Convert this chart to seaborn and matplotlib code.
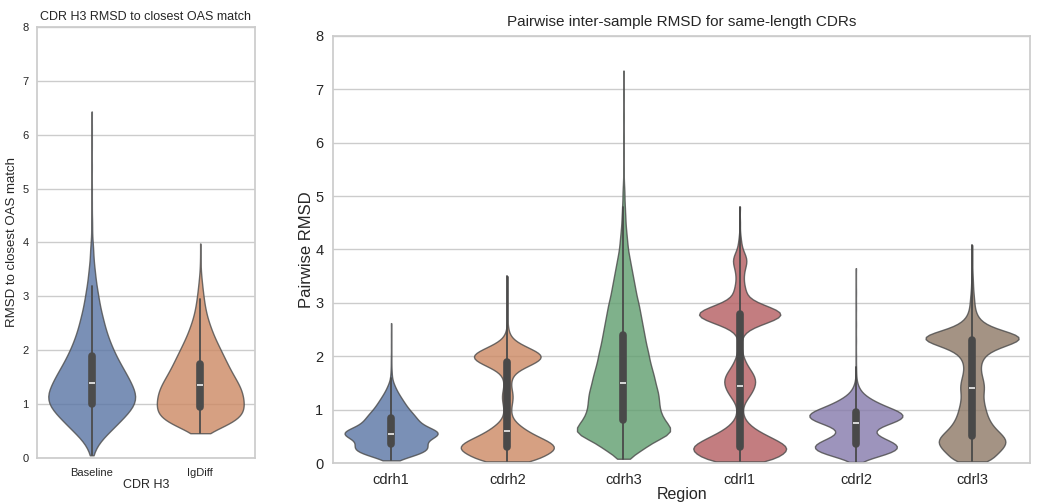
import numpy as np
import pandas as pd
import seaborn as sns
import matplotlib.pyplot as plt

# left panel: CDR H3 RMSD to closest OAS match (value grid + counts)
methods = ['Baseline', 'IgDiff']
baseline_vals = [0.05, 0.1, 0.2, 0.3, 0.4, 0.5, 0.6, 0.7, 0.8, 0.9, 1.0, 1.1, 1.2, 1.3, 1.4, 1.5,
                 1.6, 1.7, 1.8, 1.9, 2.0, 2.1, 2.2, 2.3, 2.4, 2.5, 2.6, 2.7, 2.8, 2.9, 3.0, 3.1,
                 3.2, 3.3, 3.4, 3.5, 3.6, 3.7, 3.8, 3.9, 4.0, 4.2, 4.4, 4.7, 5.0, 5.4, 5.8, 6.1, 6.43]
baseline_counts = [2, 4, 10, 18, 29, 42, 54, 66, 78, 89, 97, 100, 99, 94, 88, 82,
                   75, 68, 61, 55, 49, 44, 39, 35, 31, 28, 25, 22, 19, 17, 15, 13,
                   11, 9, 8, 7, 5, 4, 4, 3, 3, 2, 2, 1, 1, 1, 1, 1, 1]
igdiff_vals = [0.46, 0.55, 0.65, 0.75, 0.85, 0.95, 1.05, 1.15, 1.25, 1.35, 1.45, 1.55, 1.65,
               1.75, 1.85, 1.95, 2.05, 2.15, 2.25, 2.35, 2.45, 2.55, 2.65, 2.75, 2.85, 2.95,
               3.05, 3.15, 3.25, 3.35, 3.5, 3.7, 3.98]
igdiff_counts = [10, 42, 75, 92, 100, 100, 100, 98, 95, 90, 82, 75, 68,
                 62, 56, 50, 44, 38, 32, 27, 23, 18, 15, 12, 10, 8,
                 7, 5, 4, 3, 2, 1, 1]

# right panel: pairwise inter-sample RMSD per CDR region
regions = ['cdrh1', 'cdrh2', 'cdrh3', 'cdrl1', 'cdrl2', 'cdrl3']
cdrh1_vals = [0.05, 0.1, 0.15, 0.2, 0.25, 0.3, 0.35, 0.4, 0.45, 0.5, 0.55, 0.6, 0.65, 0.7,
              0.75, 0.8, 0.85, 0.9, 0.95, 1.0, 1.05, 1.1, 1.15, 1.2, 1.25, 1.3, 1.35, 1.4,
              1.45, 1.5, 1.6, 1.7, 1.8, 1.9, 2.0, 2.2, 2.4, 2.62]
cdrh1_counts = [4, 25, 45, 62, 68, 68, 62, 54, 60, 82, 100, 90, 64, 54,
                50, 47, 44, 41, 36, 31, 28, 25, 22, 19, 16, 13, 10, 8,
                6, 5, 3, 2, 1, 1, 1, 1, 1, 1]
cdrh2_vals = [0.03, 0.1, 0.2, 0.3, 0.4, 0.5, 0.6, 0.7, 0.8, 0.9, 1.0, 1.1, 1.2, 1.3, 1.4,
              1.5, 1.6, 1.7, 1.8, 1.9, 2.0, 2.1, 2.2, 2.3, 2.4, 2.5, 2.6, 2.8, 3.0, 3.2, 3.5]
cdrh2_counts = [35, 60, 90, 100, 85, 60, 40, 25, 13, 8, 7, 9, 11, 11, 8,
                7, 9, 16, 36, 62, 75, 58, 32, 13, 5, 2, 1, 1, 1, 1, 1]
cdrh3_vals = [0.08, 0.2, 0.3, 0.4, 0.5, 0.6, 0.7, 0.8, 0.9, 1.0, 1.1, 1.2, 1.3, 1.4, 1.5,
              1.6, 1.7, 1.8, 1.9, 2.0, 2.1, 2.2, 2.3, 2.4, 2.5, 2.6, 2.7, 2.8, 2.9, 3.0,
              3.1, 3.2, 3.3, 3.4, 3.5, 3.6, 3.7, 3.8, 3.9, 4.0, 4.1, 4.2, 4.3, 4.4, 4.5,
              4.6, 4.7, 4.8, 4.9, 5.0, 5.1, 5.2, 5.3, 5.5, 5.8, 6.1, 6.5, 6.9, 7.35]
cdrh3_counts = [15, 30, 45, 60, 85, 100, 92, 83, 77, 73, 72, 71, 70, 67, 64,
                62, 59, 56, 53, 51, 49, 46, 44, 42, 40, 38, 36, 34, 32, 30,
                27, 25, 23, 21, 19, 17, 15, 13, 11, 9, 8, 7, 6, 5, 4,
                4, 3, 3, 2, 2, 2, 1, 1, 1, 1, 1, 1, 1, 1]
cdrl1_vals = [0.03, 0.1, 0.2, 0.3, 0.4, 0.5, 0.6, 0.7, 0.8, 0.9, 1.0, 1.1, 1.2, 1.3, 1.4,
              1.5, 1.6, 1.7, 1.8, 1.9, 2.0, 2.1, 2.2, 2.3, 2.4, 2.5, 2.6, 2.7, 2.8, 2.9,
              3.0, 3.1, 3.2, 3.3, 3.4, 3.5, 3.6, 3.7, 3.8, 3.9, 4.0, 4.1, 4.2, 4.3, 4.5, 4.8]
cdrl1_counts = [34, 60, 82, 86, 70, 51, 32, 19, 10, 6, 5, 7, 13, 20, 25,
                28, 27, 22, 15, 10, 6, 4, 3, 3, 6, 15, 38, 68, 80, 60,
                31, 15, 11, 9, 7, 7, 8, 11, 13, 10, 5, 3, 2, 1, 1, 1]
cdrl2_vals = [0.02, 0.05, 0.1, 0.15, 0.2, 0.25, 0.3, 0.35, 0.4, 0.45, 0.5, 0.55, 0.6, 0.65,
              0.7, 0.75, 0.8, 0.85, 0.9, 0.95, 1.0, 1.05, 1.1, 1.15, 1.2, 1.25, 1.3, 1.35,
              1.4, 1.45, 1.5, 1.6, 1.7, 1.8, 2.0, 2.3, 2.6, 2.9, 3.2, 3.65]
cdrl2_counts = [3, 10, 30, 55, 75, 85, 88, 84, 72, 56, 42, 33, 31, 36,
                50, 70, 88, 98, 100, 92, 76, 60, 48, 38, 28, 20, 13, 9,
                6, 4, 3, 2, 1, 1, 1, 1, 1, 1, 1, 1]
cdrl3_vals = [0.03, 0.1, 0.2, 0.3, 0.4, 0.5, 0.6, 0.7, 0.8, 0.9, 1.0, 1.1, 1.2, 1.3, 1.4,
              1.5, 1.6, 1.7, 1.8, 1.9, 2.0, 2.1, 2.2, 2.3, 2.4, 2.5, 2.6, 2.7, 2.8, 2.9,
              3.0, 3.1, 3.2, 3.3, 3.4, 3.5, 3.6, 3.8, 4.08]
cdrl3_counts = [28, 40, 58, 68, 75, 68, 55, 44, 37, 32, 29, 26, 24, 24, 26,
                25, 22, 19, 18, 20, 26, 40, 70, 110, 105, 55, 28, 15, 9, 6,
                5, 4, 3, 2, 2, 1, 1, 1, 1]

oas_df = pd.DataFrame({
    'CDR H3': ['Baseline'] * sum(baseline_counts) + ['IgDiff'] * sum(igdiff_counts),
    'rmsd': np.concatenate([np.repeat(baseline_vals, baseline_counts),
                            np.repeat(igdiff_vals, igdiff_counts)]),
})

region_data = {
    'cdrh1': (cdrh1_vals, cdrh1_counts), 'cdrh2': (cdrh2_vals, cdrh2_counts),
    'cdrh3': (cdrh3_vals, cdrh3_counts), 'cdrl1': (cdrl1_vals, cdrl1_counts),
    'cdrl2': (cdrl2_vals, cdrl2_counts), 'cdrl3': (cdrl3_vals, cdrl3_counts),
}
rows = []
for r in regions:
    v, c = region_data[r]
    rows.append(pd.DataFrame({'Region': r, 'rmsd': np.repeat(v, c)}))
pair_df = pd.concat(rows, ignore_index=True)


def fixed_bw(bw):
    # same kernel width (in data units) for every violin
    return lambda k: bw / np.std(k.dataset)


sns.set_theme(style='whitegrid')
plt.rcParams['font.family'] = ['Liberation Sans', 'DejaVu Sans']

fig = plt.figure(figsize=(10.39, 5.03), dpi=100)
ax1 = fig.add_axes([0.036, 0.0895, 0.209, 0.857])
ax2 = fig.add_axes([0.3205, 0.0795, 0.671, 0.849])

box_kws = dict(box_width=5.5, whis_width=1.3)

sns.violinplot(data=oas_df, x='CDR H3', y='rmsd', hue='CDR H3', order=methods,
               palette='deep', cut=0, density_norm='width', alpha=0.8, linewidth=1,
               inner_kws=box_kws, bw_method=fixed_bw(0.12), legend=False, ax=ax1)
ax1.set_ylim(0, 8)
ax1.set_title('CDR H3 RMSD to closest OAS match', fontsize=9, pad=5)
ax1.set_xlabel('CDR H3', fontsize=9, labelpad=1)
ax1.set_ylabel('RMSD to closest OAS match', fontsize=9.5, labelpad=3)
ax1.tick_params(axis='y', labelsize=8, pad=0.5)
ax1.tick_params(axis='x', labelsize=8, pad=1)

sns.violinplot(data=pair_df, x='Region', y='rmsd', hue='Region', order=regions,
               palette='deep', cut=0, density_norm='width', alpha=0.8, linewidth=1,
               inner_kws=box_kws, bw_method=fixed_bw(0.08), legend=False, ax=ax2)
ax2.set_ylim(0, 8)
ax2.set_title('Pairwise inter-sample RMSD for same-length CDRs', fontsize=11, pad=7)
ax2.set_xlabel('Region', fontsize=11.5, labelpad=0)
ax2.set_ylabel('Pairwise RMSD', fontsize=12, labelpad=1)
ax2.tick_params(axis='y', labelsize=10.5, pad=1)
ax2.tick_params(axis='x', labelsize=10.5, pad=1)

fig.savefig('out.png', dpi=100)
